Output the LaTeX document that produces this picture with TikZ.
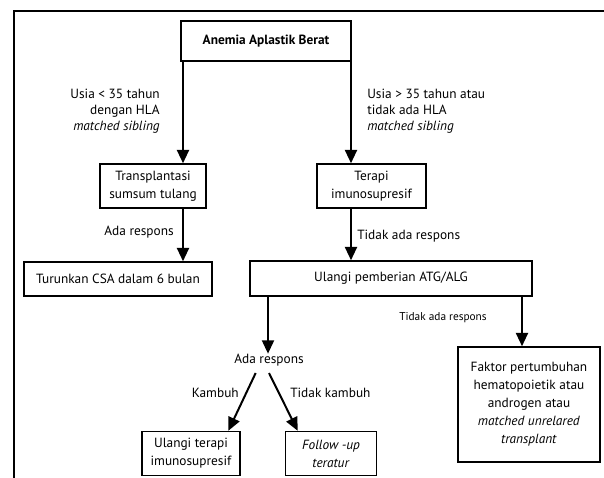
\documentclass[tikz,border=0pt]{standalone}
\usepackage{fontspec}
\setmainfont{PT Sans}
\usetikzlibrary{arrows.meta}
\begin{document}
\begin{tikzpicture}[x=0.75pt,y=-0.75pt,
  box/.style={draw,line width=1.1pt,align=center,inner sep=0pt,font=\fontsize{10}{13.5}\selectfont},
  arr/.style={line width=1.5pt,-{Triangle[width=9pt,length=10pt]}},
  lbl/.style={align=center,inner sep=0pt,font=\fontsize{10}{12}\selectfont},
  slbl/.style={inner sep=0pt,font=\fontsize{8.5}{10}\selectfont}]
\useasboundingbox (0,0) rectangle (604,478);
\draw[line width=2pt] (14,482) -- (14,11) -- (608,11);

\node[box,minimum width=127.5pt,minimum height=30pt,font=\fontsize{10}{12}\bfseries] (top) at (266,41) {Anemia Aplastik Berat};
\node[box,minimum width=79.5pt,minimum height=33pt] (trans) at (153,186) {Transplantasi\\sumsum tulang};
\node[box,minimum width=81.75pt,minimum height=33pt] (terapi) at (371.5,186) {Terapi\\imunosupresif};
\node[box,minimum width=141pt,minimum height=25.5pt] (turun) at (118,279) {Turunkan CSA dalam 6 bulan};
\node[box,minimum width=211.5pt,minimum height=26.25pt] (ulang) at (391,278.5) {Ulangi pemberian ATG/ALG};
\node[box,minimum width=106.5pt,minimum height=86.25pt] (faktor) at (529,404.5) {Faktor pertumbuhan\\hematopoietik atau\\androgen atau\\\textit{matched unrelared}\\\textit{transplant}};
\node[box,minimum width=73.5pt,minimum height=33pt] (ulter) at (191,453.5) {Ulangi terapi\\imunosupresif};
\node[box,minimum width=68pt,minimum height=33pt] (follow) at (331,453.5) {\textit{Follow -up}\\\textit{teratur}};
\node[lbl] (ada) at (269,360) {Ada respons};

\coordinate (xl) at (183,0);
\coordinate (xr) at (351,0);
\coordinate (xu) at (268,0);
\coordinate (xf) at (522,0);

\draw[arr] (top.south -| xl) -- (trans.north -| xl);
\draw[arr] (top.south -| xr) -- (terapi.north -| xr);
\draw[arr] (trans.south -| xl) -- (turun.north -| xl);
\draw[arr] (terapi.south -| xr) -- (ulang.north -| xr);
\draw[arr] (ulang.south -| xu) -- (ada.north -| xu);
\draw[arr] (ulang.south -| xf) -- (faktor.north -| xf);
\draw[arr] ([xshift=-10pt,yshift=-5pt]ada.south) -- ([xshift=28pt]ulter.north);
\draw[arr] ([xshift=0pt,yshift=-5pt]ada.south) -- ([xshift=-25pt]follow.north);

\node[lbl,align=right,anchor=east] (l1) at (160,111) {Usia < 35 tahun\\dengan HLA\\\textit{matched sibling}};
\node[lbl,align=left,anchor=west] (l2) at (367,111) {Usia > 35 tahun atau\\tidak ada HLA\\\textit{matched sibling}};
\node[lbl,anchor=east] (l3) at (174,232) {Ada respons};
\node[lbl,anchor=west] (l4) at (357,236) {Tidak ada respons};
\node[slbl] (l5) at (443,318) {Tidak ada respons};
\node[lbl,anchor=east] (l6) at (239,393) {Kambuh};
\node[lbl,anchor=west] (l7) at (290,393) {Tidak kambuh};
\end{tikzpicture}
\end{document}
